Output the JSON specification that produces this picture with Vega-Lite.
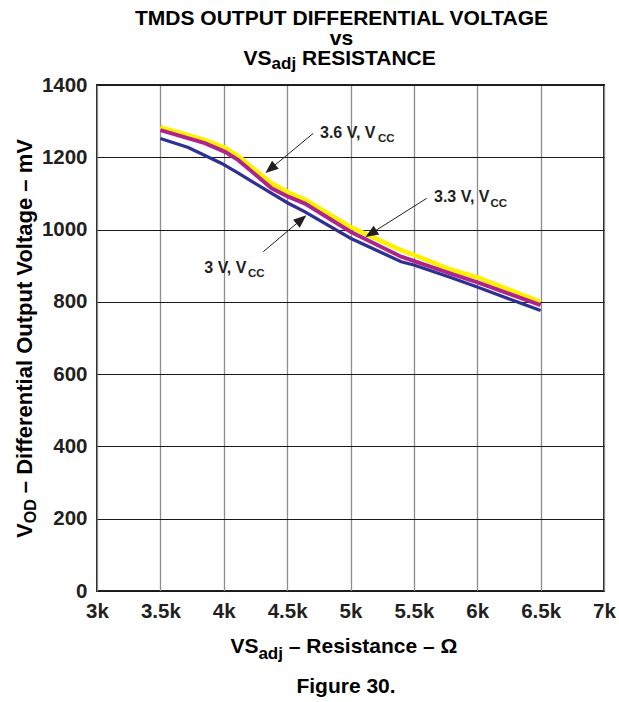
{
  "$schema": "https://vega.github.io/schema/vega-lite/v6.json",
  "width": 507,
  "height": 506,
  "autosize": {"type": "none"},
  "padding": {"left": 97, "top": 85, "right": 15, "bottom": 111},
  "background": "white",
  "config": {
    "font": "Liberation Sans",
    "view": {"stroke": "#231f20", "strokeWidth": 2},
    "axis": {
      "labelFont": "Liberation Sans",
      "labelFontWeight": "bold",
      "labelFontSize": 20.5,
      "labelColor": "#231f20",
      "ticks": false,
      "tickSize": 0,
      "domain": false,
      "grid": true,
      "title": null
    }
  },
  "datasets": {
    "curves": [
      {"series": "3.6 V", "r": 3500, "v": 1283},
      {"series": "3.6 V", "r": 3850, "v": 1248},
      {"series": "3.6 V", "r": 4010, "v": 1226},
      {"series": "3.6 V", "r": 4115, "v": 1203},
      {"series": "3.6 V", "r": 4247, "v": 1165},
      {"series": "3.6 V", "r": 4378, "v": 1128},
      {"series": "3.6 V", "r": 4509, "v": 1103},
      {"series": "3.6 V", "r": 4641, "v": 1083},
      {"series": "3.6 V", "r": 5000, "v": 1007},
      {"series": "3.6 V", "r": 5400, "v": 943},
      {"series": "3.6 V", "r": 5500, "v": 930},
      {"series": "3.6 V", "r": 5785, "v": 890},
      {"series": "3.6 V", "r": 6008, "v": 867},
      {"series": "3.6 V", "r": 6500, "v": 800},
      {"series": "3.3 V", "r": 3500, "v": 1275},
      {"series": "3.3 V", "r": 3850, "v": 1239},
      {"series": "3.3 V", "r": 4010, "v": 1215},
      {"series": "3.3 V", "r": 4115, "v": 1192},
      {"series": "3.3 V", "r": 4247, "v": 1153},
      {"series": "3.3 V", "r": 4378, "v": 1114},
      {"series": "3.3 V", "r": 4509, "v": 1091},
      {"series": "3.3 V", "r": 4641, "v": 1072},
      {"series": "3.3 V", "r": 5000, "v": 994},
      {"series": "3.3 V", "r": 5400, "v": 925},
      {"series": "3.3 V", "r": 5785, "v": 879},
      {"series": "3.3 V", "r": 6008, "v": 853},
      {"series": "3.3 V", "r": 6500, "v": 791},
      {"series": "3 V", "r": 3500, "v": 1252},
      {"series": "3 V", "r": 3720, "v": 1227},
      {"series": "3 V", "r": 3984, "v": 1183},
      {"series": "3 V", "r": 4115, "v": 1156},
      {"series": "3 V", "r": 4247, "v": 1128},
      {"series": "3 V", "r": 4378, "v": 1100},
      {"series": "3 V", "r": 4509, "v": 1073},
      {"series": "3 V", "r": 4641, "v": 1049},
      {"series": "3 V", "r": 5000, "v": 976},
      {"series": "3 V", "r": 5400, "v": 911},
      {"series": "3 V", "r": 5500, "v": 902},
      {"series": "3 V", "r": 5785, "v": 868},
      {"series": "3 V", "r": 6000, "v": 841},
      {"series": "3 V", "r": 6500, "v": 776}
    ],
    "arrows": [
      {"x": 4706.5, "y": 1266.4, "x2": 4340, "y2": 1160},
      {"x": 5601, "y": 1086.5, "x2": 5130, "y2": 982},
      {"x": 4312, "y": 938.8, "x2": 4640, "y2": 1036}
    ],
    "heads": [
      {"x": 4368, "y": 1168.1, "dir": 230.4},
      {"x": 5161, "y": 988.9, "dir": 237.7},
      {"x": 4612.4, "y": 1027.9, "dir": 49.8}
    ],
    "notes": [
      {"x": 4759.4, "y": 1252.5, "text": "3.6 V, V"},
      {"x": 5658.8, "y": 1077.1, "text": "3.3 V, V"},
      {"x": 3846.5, "y": 880.7, "text": "3 V, V"}
    ],
    "notesSub": [
      {"x": 5217, "y": 1241.5, "text": "CC"},
      {"x": 6105, "y": 1063.3, "text": "CC"},
      {"x": 4190.5, "y": 869.6, "text": "CC"}
    ],
    "centerText": [
      {"x": 4929, "y": 1566, "text": "TMDS OUTPUT DIFFERENTIAL VOLTAGE"},
      {"x": 4929, "y": 1510.7, "text": "vs"},
      {"x": 4964.5, "y": -282.2, "text": "Figure 30."}
    ],
    "leftText": [
      {"x": 4156.6, "y": 1455.3, "text": "VS"},
      {"x": 4617.3, "y": 1455.3, "text": "RESISTANCE"},
      {"x": 4052.5, "y": -172.4, "text": "VS"},
      {"x": 4513.2, "y": -172.4, "text": "– Resistance – Ω"}
    ],
    "leftSub": [
      {"x": 4377.5, "y": 1442.9, "text": "adj"},
      {"x": 4273.4, "y": -188.1, "text": "adj"}
    ],
    "yTitle": [
      {"x": 2487.2, "y": 146.6, "text": "V"},
      {"x": 2487.2, "y": 270.6, "text": "– Differential Output Voltage – mV"}
    ],
    "yTitleSub": [
      {"x": 2514.8, "y": 187.3, "text": "OD"}
    ]
  },
  "layer": [
    {
      "data": {"name": "curves"},
      "mark": {"type": "line", "clip": true},
      "encoding": {
        "x": {
          "field": "r", "type": "quantitative",
          "scale": {"domain": [3000, 7000], "nice": false, "zero": false},
          "axis": {
            "values": [3000, 3500, 4000, 4500, 5000, 5500, 6000, 6500, 7000],
            "labelExpr": "(datum.value / 1000) + 'k'",
            "labelPadding": 10.5,
            "gridColor": "#8c8c8c",
            "gridWidth": 1.3,
            "gridOpacity": 1,
            "labelFlush": false,
            "labelOverlap": false
          }
        },
        "y": {
          "field": "v", "type": "quantitative",
          "scale": {"domain": [0, 1400], "nice": false},
          "axis": {
            "values": [0, 200, 400, 600, 800, 1000, 1200, 1400],
            "format": "d",
            "labelPadding": 10,
            "gridColor": "#1a1a1a",
            "gridWidth": 1,
            "gridOpacity": 1,
            "labelFlush": false,
            "labelOverlap": false
          }
        },
        "color": {
          "field": "series", "type": "nominal",
          "scale": {"domain": ["3.6 V", "3.3 V", "3 V"], "range": ["#fff200", "#b0228c", "#2e3192"]},
          "legend": null
        },
        "strokeWidth": {
          "field": "series", "type": "nominal",
          "scale": {"domain": ["3.6 V", "3.3 V", "3 V"], "range": [4.6, 3.3, 3.3]},
          "legend": null
        }
      }
    },
    {
      "data": {"name": "arrows"},
      "mark": {"type": "rule", "color": "#231f20", "strokeWidth": 1},
      "encoding": {
        "x": {"field": "x", "type": "quantitative"},
        "y": {"field": "y", "type": "quantitative"},
        "x2": {"field": "x2"},
        "y2": {"field": "y2"}
      }
    },
    {
      "data": {"name": "heads"},
      "mark": {"type": "point", "shape": "M0,-1L0.8,1L-0.8,1Z", "filled": true, "color": "#231f20", "opacity": 1, "size": 169},
      "encoding": {
        "x": {"field": "x", "type": "quantitative"},
        "y": {"field": "y", "type": "quantitative"},
        "angle": {"field": "dir", "type": "quantitative", "scale": null}
      }
    },
    {
      "data": {"name": "notes"},
      "mark": {"type": "text", "align": "left", "baseline": "alphabetic", "fontSize": 16, "fontWeight": "bold", "color": "#231f20"},
      "encoding": {
        "x": {"field": "x", "type": "quantitative"},
        "y": {"field": "y", "type": "quantitative"},
        "text": {"field": "text"}
      }
    },
    {
      "data": {"name": "notesSub"},
      "mark": {"type": "text", "align": "left", "baseline": "alphabetic", "fontSize": 11.5, "fontWeight": "bold", "color": "#231f20"},
      "encoding": {
        "x": {"field": "x", "type": "quantitative"},
        "y": {"field": "y", "type": "quantitative"},
        "text": {"field": "text"}
      }
    },
    {
      "data": {"name": "centerText"},
      "mark": {"type": "text", "align": "center", "baseline": "alphabetic", "fontSize": 21, "fontWeight": "bold", "color": "#000000"},
      "encoding": {
        "x": {"field": "x", "type": "quantitative"},
        "y": {"field": "y", "type": "quantitative"},
        "text": {"field": "text"}
      }
    },
    {
      "data": {"name": "leftText"},
      "mark": {"type": "text", "align": "left", "baseline": "alphabetic", "fontSize": 21, "fontWeight": "bold", "color": "#000000"},
      "encoding": {
        "x": {"field": "x", "type": "quantitative"},
        "y": {"field": "y", "type": "quantitative"},
        "text": {"field": "text"}
      }
    },
    {
      "data": {"name": "leftSub"},
      "mark": {"type": "text", "align": "left", "baseline": "alphabetic", "fontSize": 17, "fontWeight": "bold", "color": "#000000"},
      "encoding": {
        "x": {"field": "x", "type": "quantitative"},
        "y": {"field": "y", "type": "quantitative"},
        "text": {"field": "text"}
      }
    },
    {
      "data": {"name": "yTitle"},
      "mark": {"type": "text", "align": "left", "baseline": "alphabetic", "angle": 270, "fontSize": 22, "fontWeight": "bold", "color": "#000000"},
      "encoding": {
        "x": {"field": "x", "type": "quantitative"},
        "y": {"field": "y", "type": "quantitative"},
        "text": {"field": "text"}
      }
    },
    {
      "data": {"name": "yTitleSub"},
      "mark": {"type": "text", "align": "left", "baseline": "alphabetic", "angle": 270, "fontSize": 16, "fontWeight": "bold", "color": "#000000"},
      "encoding": {
        "x": {"field": "x", "type": "quantitative"},
        "y": {"field": "y", "type": "quantitative"},
        "text": {"field": "text"}
      }
    }
  ]
}
